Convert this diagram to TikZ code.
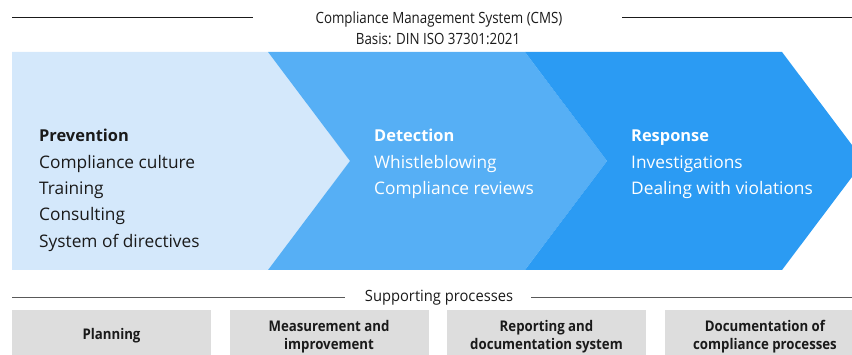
\documentclass[tikz,border=0pt]{standalone}
\usepackage{fontspec}
\setmainfont{Open Sans}
\newfontfamily\titlefont[FakeStretch=0.86]{Open Sans}
\newfontfamily\suppfont[FakeStretch=0.95]{Open Sans}
\newfontfamily\narrowfont[FakeStretch=0.9]{Open Sans}
\definecolor{prevfill}{HTML}{D4E8FB}
\definecolor{detfill}{HTML}{56AFF5}
\definecolor{respfill}{HTML}{2B9BF3}
\definecolor{boxfill}{HTML}{DDDDDD}
\definecolor{inkdark}{HTML}{1A1A1A}
\tikzset{
  x=1pt, y=-1pt,
  rule/.style={line width=1pt, draw=inkdark},
  subrule/.style={line width=1pt, draw=black!65},
  headtext/.style={inner sep=0pt, anchor=base, font=\titlefont\fontsize{15.5}{18}\selectfont, text=inkdark},
  phasehead/.style={inner sep=0pt, anchor=base west, font=\fontsize{16.4}{18}\selectfont\bfseries},
  phaseitem/.style={inner sep=0pt, anchor=base west, font=\fontsize{17.3}{20}\selectfont},
  procbox/.style={fill=boxfill, draw=none},
  proctext/.style={inner sep=0pt, anchor=base, align=center, text=inkdark,
    font=\narrowfont\fontsize{14.7}{18.5}\selectfont\bfseries},
}
\begin{document}
\begin{tikzpicture}
\useasboundingbox (0,0) rectangle (852,355);
\clip (0,0) rectangle (852,355);

% header
\node[headtext] (title) at (439,24) {Compliance Management System (CMS)};
\node[headtext] (basis) at (438,45) {Basis: DIN ISO 37301:2021};
\coordinate (tl0) at (12,18);
\coordinate (tl1) at (253,18);
\coordinate (tr0) at (622,18);
\coordinate (tr1) at (852,18);
\draw[rule] (tl0) -- (tl1);
\draw[rule] (tr0) -- (tr1);

% chevrons
\fill[prevfill] (12,52) -- (268,52) -- (350,161) -- (268,270) -- (12,270) -- cycle;
\fill[detfill] (268,52) -- (525,52) -- (607,161) -- (525,270) -- (268,270) -- (350,161) -- cycle;
\fill[respfill] (525,52) -- (782,52) -- (864,161) -- (782,270) -- (525,270) -- (607,161) -- cycle;

% prevention
\node[phasehead, text=inkdark] (prevh) at (39,142) {Prevention};
\node[phaseitem, text=inkdark] (prev1) at (39,168.3) {Compliance culture};
\node[phaseitem, text=inkdark] (prev2) at (39,194.6) {Training};
\node[phaseitem, text=inkdark] (prev3) at (39,220.9) {Consulting};
\node[phaseitem, text=inkdark] (prev4) at (39,247.2) {System of directives};

% detection
\node[phasehead, text=white] (deth) at (374,142) {Detection};
\node[phaseitem, text=white] (det1) at (374,168.3) {Whistleblowing};
\node[phaseitem, text=white] (det2) at (374,194.6) {Compliance reviews};

% response
\node[phasehead, text=white] (resh) at (631,142) {Response};
\node[phaseitem, text=white] (res1) at (631,168.3) {Investigations};
\node[phaseitem, text=white] (res2) at (631,194.6) {Dealing with violations};

% supporting processes
\node[headtext, font=\suppfont\fontsize{15.5}{18}\selectfont] (supp) at (439,302) {Supporting processes};
\coordinate (sl0) at (12,297.5);
\coordinate (sl1) at (345,297.5);
\coordinate (sr0) at (531,297.5);
\coordinate (sr1) at (852,297.5);
\draw[subrule] (sl0) -- (sl1);
\draw[subrule] (sr0) -- (sr1);

\fill[procbox] (12,310) rectangle (211,355);
\fill[procbox] (230,310) rectangle (428.5,355);
\fill[procbox] (447,310) rectangle (646,355);
\fill[procbox] (664.5,310) rectangle (864,355);

% two-line labels: the base anchor sits on the last line
\node[proctext] (plan) at (111.5,340) {Planning};
\node[proctext] (meas) at (329,350) {Measurement and\\improvement};
\node[proctext] (repo) at (546.5,350) {Reporting and\\documentation system};
\node[proctext] (docu) at (765,350) {Documentation of\\compliance processes};
\end{tikzpicture}
\end{document}
